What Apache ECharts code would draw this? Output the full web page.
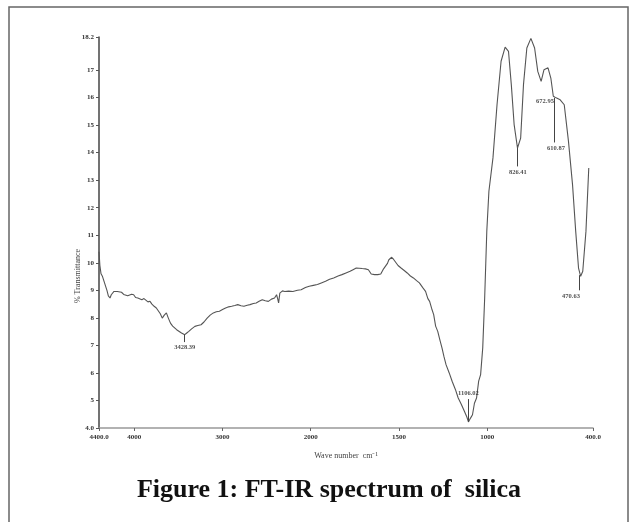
<!DOCTYPE html>
<html>
<head>
<meta charset="utf-8">
<script src="https://cdn.jsdelivr.net/npm/echarts@6/dist/echarts.min.js"></script>
<style>
html,body{margin:0;padding:0;background:#fff;}
#chart{width:638px;height:522px;}
</style>
</head>
<body>
<div id="chart"></div>
<script>
// Wavenumber (cm-1) and % transmittance
const wavenumbers = [4400,4390,4377,4360,4340,4310,4294,4275,4261,4230,4192,4170,4145,4120,4099,4075,4053,4030,4007,3985,3960,3940,3914,3890,3868,3845,3822,3800,3775,3750,3729,3705,3683,3660,3636,3615,3590,3565,3544,3520,3498,3465,3428,3405,3382,3350,3313,3280,3243,3210,3174,3140,3104,3070,3035,3000,2965,2930,2896,2860,2827,2790,2757,2720,2688,2650,2618,2585,2549,2515,2480,2445,2410,2387,2375,2364,2350,2341,2320,2294,2250,2202,2150,2109,2060,2017,1985,1962,1940,1916,1893,1870,1845,1823,1800,1777,1760,1742,1725,1708,1690,1673,1657,1638,1620,1603,1590,1580,1565,1557,1541,1530,1522,1505,1488,1470,1453,1435,1418,1400,1384,1365,1349,1336,1326,1315,1303,1292,1280,1268,1256,1245,1233,1215,1198,1180,1164,1146,1129,1115,1106,1095,1083,1072,1060,1048,1037,1025,1014,1002,990,967,944,921,898,879,863,847,828,810,794,775,752,731,713,694,678,655,639,625,609,586,563,539,516,498,482,470,458,440,424];
const transmittance = [10.4,9.9,9.6,9.5,9.3,9.0,8.8,8.72,8.84,8.96,8.96,8.9,8.93,8.85,8.9,8.8,8.78,8.86,8.84,8.74,8.72,8.68,8.66,8.7,8.66,8.58,8.6,8.5,8.42,8.36,8.3,8.15,7.99,8.1,8.18,8.0,7.81,7.7,7.63,7.57,7.51,7.45,7.39,7.45,7.51,7.6,7.69,7.72,7.75,7.85,7.99,8.1,8.18,8.22,8.24,8.3,8.36,8.4,8.42,8.45,8.48,8.44,8.42,8.46,8.48,8.52,8.54,8.6,8.66,8.62,8.6,8.68,8.72,8.84,8.7,8.54,8.9,8.96,8.98,8.96,8.97,8.96,9.0,9.02,9.1,9.15,9.18,9.21,9.27,9.33,9.4,9.45,9.52,9.57,9.63,9.69,9.75,9.81,9.8,9.79,9.78,9.75,9.59,9.57,9.57,9.59,9.75,9.81,9.98,10.11,10.2,10.12,10.05,9.9,9.81,9.72,9.63,9.52,9.45,9.35,9.27,9.1,8.96,8.7,8.6,8.35,8.12,7.7,7.51,7.2,6.91,6.6,6.3,6.0,5.69,5.4,5.09,4.85,4.61,4.4,4.22,4.35,4.48,4.9,5.09,5.7,5.94,6.91,8.72,11.14,12.6,13.81,15.74,17.32,17.83,17.68,16.47,15.02,14.17,14.53,16.47,17.8,18.15,17.8,16.95,16.59,17.01,17.08,16.71,16.05,15.99,15.92,15.74,14.41,12.84,11.14,9.81,9.51,9.69,11.14,13.44];

// Axis ticks
const xTickWn = [4400, 4000, 3000, 2000, 1500, 1000, 400];
const xTickLabels = ['4400.0', '4000', '3000', '2000', '1500', '1000', '400.0'];
const yTicks = [4,5,6,7,8,9,10,11,12,13,14,15,16,17,18.2];
const yTickLabels = ['4.0','5','6','7','8','9','10','11','12','13','14','15','16','17','18.2'];

// Peak annotations: label wavenumber, label %T, text
const peakLabelWn = [3428, 1106, 826, 672, 610, 525];
const peakLabelT = [6.94, 5.25, 13.3, 15.87, 14.17, 8.79];
const peakLabelText = ['3428.39', '1106.02', '826.41', '672.95', '610.87', '470.63'];
// connector lines: [wn1, T1, wn2, T2]
const connectors = [
  [3428, 7.39, 3428, 7.12],
  [1106, 4.22, 1106, 5.05],
  [828, 14.17, 828, 13.5],
  [620, 15.99, 620, 14.37],
  [478, 9.55, 478, 9.0]
];

// PerkinElmer-style abscissa: x2 expansion below 2000 cm-1
function toU(wn) { return wn >= 2000 ? 4400 - wn : 2400 + (2000 - wn) * 2; }

const chart = echarts.init(document.getElementById('chart'));
const lblFont = { fontFamily: 'Liberation Serif', fontSize: 7, fontWeight: 'bold', color: '#333' };

chart.setOption({
  animation: false,
  backgroundColor: '#fff',
  grid: { left: 99, right: 45, top: 37, bottom: 94 },
  xAxis: {
    type: 'value', min: 0, max: toU(400),
    name: 'Wave number  cm\u207B\u00B9', nameLocation: 'middle', nameGap: 24,
    nameTextStyle: { fontFamily: 'Liberation Serif', fontSize: 8, color: '#444' },
    axisLine: { lineStyle: { color: '#999', width: 1.5 } },
    axisTick: { show: true, length: 3, lineStyle: { color: '#666' }, customValues: xTickWn.map(toU) },
    axisLabel: Object.assign({ margin: 6, customValues: xTickWn.map(toU),
      formatter: function (v) {
        for (let i = 0; i < xTickWn.length; i++) if (Math.abs(toU(xTickWn[i]) - v) < 1e-6) return xTickLabels[i];
        return '';
      } }, lblFont),
    splitLine: { show: false }
  },
  yAxis: {
    type: 'value', min: 4, max: 18.2,
    axisLine: { show: true, lineStyle: { color: '#444', width: 1.5 } },
    axisTick: { show: true, length: 3, lineStyle: { color: '#555' }, customValues: yTicks },
    axisLabel: Object.assign({ margin: 5, customValues: yTicks,
      formatter: function (v) {
        for (let i = 0; i < yTicks.length; i++) if (Math.abs(yTicks[i] - v) < 1e-6) return yTickLabels[i];
        return '';
      } }, lblFont),
    splitLine: { show: false }
  },
  series: [
    {
      type: 'line', showSymbol: false, symbol: 'none',
      lineStyle: { color: '#555', width: 1.1 },
      data: wavenumbers.map((w, i) => [toU(w), transmittance[i]]),
      markLine: {
        silent: true, symbol: 'none', label: { show: false },
        lineStyle: { color: '#444', width: 1, type: 'solid' },
        data: connectors.map(c => [{ coord: [toU(c[0]), c[1]] }, { coord: [toU(c[2]), c[3]] }])
      }
    },
    {
      type: 'scatter', symbol: 'circle', symbolSize: 2,
      itemStyle: { color: 'rgba(0,0,0,0)' },
      data: peakLabelWn.map((w, i) => [toU(w), peakLabelT[i], peakLabelText[i]]),
      label: { show: true, position: 'inside', formatter: p => p.data[2],
        fontFamily: 'Liberation Serif', fontSize: 6.5, fontWeight: 'bold', color: '#222' },
      z: 5
    }
  ],
  graphic: [
    { type: 'rect', shape: { x: 9, y: 7, width: 619, height: 530 }, style: { fill: 'none', stroke: '#666', lineWidth: 1.5 } },
    { type: 'text', x: 78, y: 276, rotation: Math.PI / 2,
      style: { text: '% Transmittance', fontFamily: 'Liberation Serif', fontSize: 8, fill: '#444', textAlign: 'center', textVerticalAlign: 'middle' } },
    { type: 'text', x: 329, y: 490,
      style: { text: 'Figure 1: FT-IR spectrum of  silica', fontFamily: 'Liberation Serif', fontSize: 26, fontWeight: 'bold', fill: '#111', textAlign: 'center', textVerticalAlign: 'middle' } }
  ]
});
</script>
</body>
</html>
